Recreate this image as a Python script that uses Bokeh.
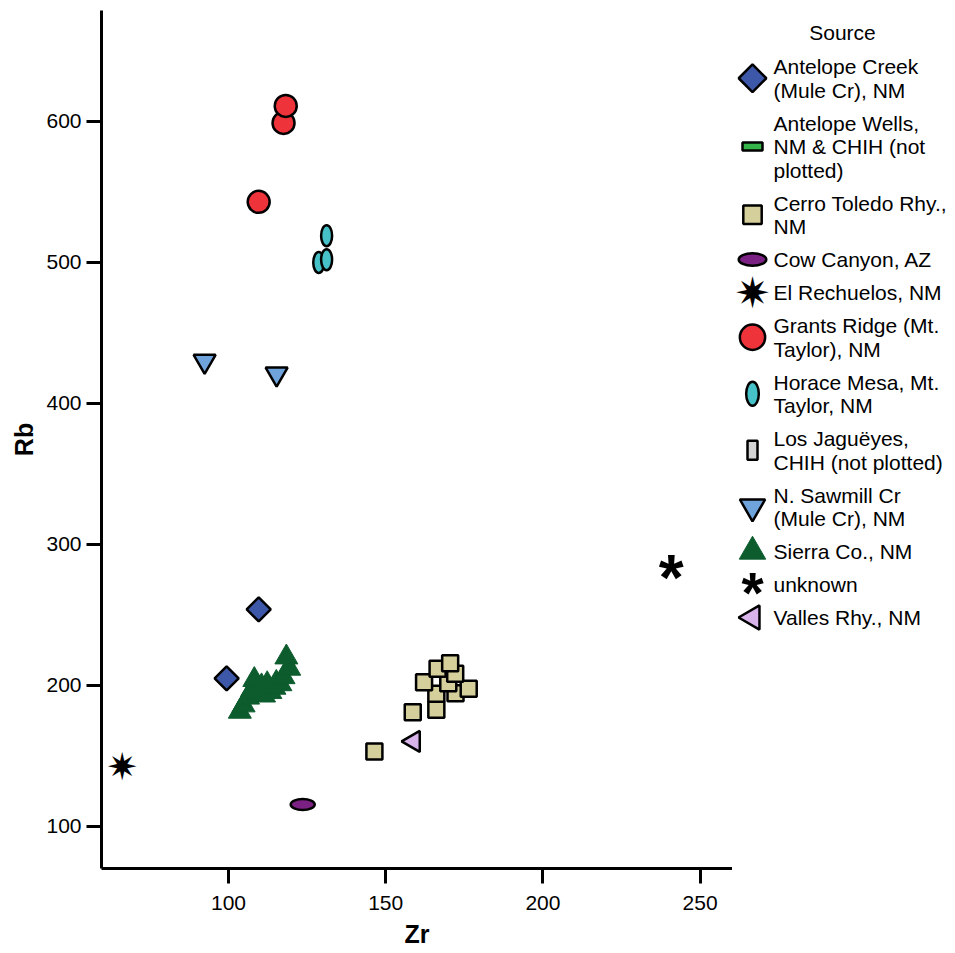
import numpy as np
from bokeh.plotting import figure
from bokeh.layouts import row
from bokeh.models import Range1d
from bokeh.core.properties import value
from bokeh.embed import file_html
from bokeh.resources import INLINE

# ---------------- data (Zr, Rb) ----------------
antelope_creek_zr = [99.4, 109.6]
antelope_creek_rb = [205.0, 254.0]

cerro_toledo_zr = [146.4, 158.6, 166.1, 166.1, 172.2, 176.4, 162.2, 169.9, 172.1, 166.5, 170.5]
cerro_toledo_rb = [153.2, 181.0, 182.8, 194.1, 194.5, 197.7, 202.3, 201.6, 208.3, 211.8, 215.8]

cow_canyon_zr = [123.6]
cow_canyon_rb = [115.6]

el_rechuelos_zr = [66.2]
el_rechuelos_rb = [142.0]

grants_ridge_zr = [109.6, 117.5, 118.2]
grants_ridge_rb = [543.0, 599.0, 611.0]

horace_mesa_zr = [128.7, 131.2, 131.2]
horace_mesa_rb = [500.0, 502.0, 519.0]

n_sawmill_zr = [92.4, 115.3]
n_sawmill_rb = [430.0, 421.0]

sierra_co_zr = [103.6, 104.8, 106.2, 107.5, 108.2, 109.5, 110.5, 111.3, 112.3, 113.3,
                114.6, 115.2, 116.5, 117.5, 119.3, 118.4]
sierra_co_rb = [181.5, 186.0, 191.5, 197.0, 204.0, 195.0, 199.5, 193.0, 201.0, 195.5,
                198.5, 202.0, 201.0, 206.0, 212.0, 220.0]

unknown_zr = [240.8]
unknown_rb = [283.0]

valles_zr = [158.9]
valles_rb = [160.3]

x_ticks = [100, 150, 200, 250]
y_ticks = [100, 200, 300, 400, 500, 600]

legend_title = "Source"
legend_keys = ["ac", "aw", "ct", "cc", "er", "gr", "hm", "lj", "ns", "sc", "un", "vr"]
legend_lines = [
    ["Antelope Creek", "(Mule Cr), NM"],
    ["Antelope Wells,", "NM & CHIH (not", "plotted)"],
    ["Cerro Toledo Rhy.,", "NM"],
    ["Cow Canyon, AZ"],
    ["El Rechuelos, NM"],
    ["Grants Ridge (Mt.", "Taylor), NM"],
    ["Horace Mesa, Mt.", "Taylor, NM"],
    ["Los Jaguëyes,", "CHIH (not plotted)"],
    ["N. Sawmill Cr", "(Mule Cr), NM"],
    ["Sierra Co., NM"],
    ["unknown"],
    ["Valles Rhy., NM"],
]

# ---------------- colours ----------------
C = {
    "ac": "#3d58a8", "aw": "#35b44a", "ct": "#d5cf9b", "cc": "#7a2183",
    "gr": "#ee333b", "hm": "#45c1c7", "lj": "#d4d4d4", "ns": "#6fa3dc",
    "sc": "#0d5c2e", "vr": "#d8b4ea",
}
FONT = "Liberation Sans"
LW = 2.5


def draw(fig, key, xs, ys, leg=False):
    k = 1.15 if leg else 1.0
    if key == "ac":
        fig.scatter(xs, ys, marker="square", angle=np.pi / 4, size=17 * k,
                    fill_color=C["ac"], line_color="black", line_width=LW)
    elif key == "aw":
        fig.rect(xs, ys, width=20, height=8, width_units="screen", height_units="screen",
                 fill_color=C["aw"], line_color="black", line_width=LW)
    elif key == "ct":
        fig.scatter(xs, ys, marker="square", size=16 * k,
                    fill_color=C["ct"], line_color="black", line_width=LW)
    elif key == "cc":
        fig.ellipse(xs, ys, width=24 * k, height=11 * k, width_units="screen", height_units="screen",
                    fill_color=C["cc"], line_color="black", line_width=LW)
    elif key == "er":
        fig.text(xs, ys, text=["\u2737"] * len(xs), text_font=value("DejaVu Sans"),
                 text_font_size=value("%dpx" % (38 * k)), text_align="center",
                 text_baseline="middle", text_color="black")
    elif key == "gr":
        fig.scatter(xs, ys, marker="circle", size=22 * k,
                    fill_color=C["gr"], line_color="black", line_width=LW)
    elif key == "hm":
        fig.ellipse(xs, ys, width=11 * k, height=21 * k, width_units="screen", height_units="screen",
                    fill_color=C["hm"], line_color="black", line_width=LW)
    elif key == "lj":
        fig.rect(xs, ys, width=10, height=19, width_units="screen", height_units="screen",
                 fill_color=C["lj"], line_color="black", line_width=LW)
    elif key == "ns":
        fig.scatter(xs, ys, marker="inverted_triangle", size=22 * k,
                    fill_color=C["ns"], line_color="black", line_width=LW)
    elif key == "sc":
        fig.scatter(xs, ys, marker="triangle", size=23 * k,
                    fill_color=C["sc"], line_color=C["sc"], line_width=1)
    elif key == "un":
        fs = 64 * (0.9 if leg else 1.0)
        fig.text(xs, ys, text=["*"] * len(xs), text_font=value(FONT), text_font_style="bold",
                 text_font_size=value("%dpx" % fs), text_align="center",
                 text_baseline="alphabetic", y_offset=0.15 * fs, text_color="black")
    elif key == "vr":
        fig.scatter(xs, ys, marker="triangle", angle=np.pi / 2, size=21 * k,
                    fill_color=C["vr"], line_color="black", line_width=LW)


# ---------------- main plot ----------------
FR_L, FR_R, FR_T, FR_B, FIG_H = 101, 732, 10, 868, 953
p = figure(width=FR_R, height=FIG_H,
           x_range=Range1d(59.6, 260.3), y_range=Range1d(70.2, 678.7),
           output_backend="svg", toolbar_location=None,
           min_border_left=FR_L, min_border_right=0, min_border_top=FR_T,
           min_border_bottom=FIG_H - FR_B)
p.outline_line_color = None
p.grid.visible = False
p.background_fill_color = "white"
p.border_fill_color = "white"

p.xaxis.ticker = x_ticks
p.yaxis.ticker = y_ticks
p.xaxis.axis_label = "Zr"
p.yaxis.axis_label = "Rb"
for ax in (p.xaxis[0], p.yaxis[0]):
    ax.axis_line_width = 3
    ax.axis_line_color = "black"
    ax.major_tick_line_width = 3
    ax.major_tick_line_color = "black"
    ax.major_tick_out = 15
    ax.major_tick_in = 0
    ax.minor_tick_out = 0
    ax.minor_tick_in = 0
    ax.major_label_text_font = FONT
    ax.major_label_text_font_size = "21px"
    ax.major_label_text_color = "black"
    ax.axis_label_text_font = FONT
    ax.axis_label_text_font_style = "bold"
    ax.axis_label_text_font_size = "25px"
    ax.axis_label_text_color = "black"
p.xaxis.major_label_standoff = 12
p.yaxis.major_label_standoff = 5
p.xaxis.axis_label_standoff = 7
p.yaxis.axis_label_standoff = 5

draw(p, "ac", antelope_creek_zr, antelope_creek_rb)
draw(p, "ct", cerro_toledo_zr, cerro_toledo_rb)
draw(p, "cc", cow_canyon_zr, cow_canyon_rb)
draw(p, "er", el_rechuelos_zr, el_rechuelos_rb)
draw(p, "gr", grants_ridge_zr, grants_ridge_rb)
draw(p, "hm", horace_mesa_zr, horace_mesa_rb)
draw(p, "ns", n_sawmill_zr, n_sawmill_rb)
draw(p, "sc", sierra_co_zr, sierra_co_rb)
draw(p, "un", unknown_zr, unknown_rb)
draw(p, "vr", valles_zr, valles_rb)

# ---------------- legend panel (coordinates = page pixels) ----------------
LEG_W = 955 - FR_R
leg = figure(width=LEG_W, height=FIG_H, x_range=Range1d(FR_R, 955), y_range=Range1d(FR_B, FR_T),
             output_backend="svg", toolbar_location=None,
             x_axis_location=None, y_axis_location=None,
             min_border_left=0, min_border_right=0, min_border_top=FR_T,
             min_border_bottom=FIG_H - FR_B)
leg.outline_line_color = None
leg.grid.visible = False
leg.background_fill_color = "white"
leg.border_fill_color = "white"

leg.text([842], [32], text=[legend_title], text_font=value(FONT), text_font_size=value("21px"),
         text_align="center", text_baseline="middle", text_color="black")

MARK_X, TEXT_X = 752, 773
LINE_STEP, ITEM_GAP = 23.5, 33
y = 66
tx, ty, tt = [], [], []
for key, lines in zip(legend_keys, legend_lines):
    ys = [y + LINE_STEP * i for i in range(len(lines))]
    for yy, t in zip(ys, lines):
        tx.append(TEXT_X)
        ty.append(yy)
        tt.append(t)
    draw(leg, key, [MARK_X], [sum(ys) / len(ys)], leg=True)
    y = ys[-1] + ITEM_GAP

leg.text(tx, ty, text=tt, text_font=value(FONT), text_font_size=value("21px"),
         text_align="left", text_baseline="middle", text_color="black")

layout = row(p, leg)
open("out.html", "w").write(file_html(layout, INLINE))
